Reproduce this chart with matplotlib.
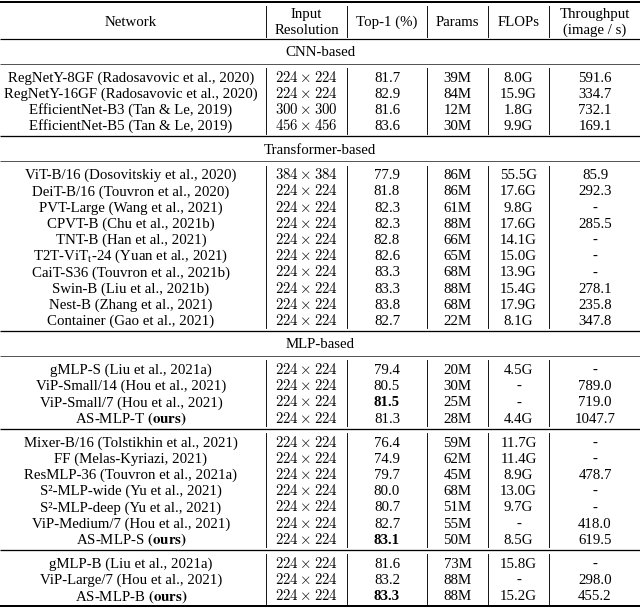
import matplotlib.pyplot as plt

plt.rcParams['font.family'] = ['Liberation Serif', 'DejaVu Serif']
plt.rcParams['mathtext.fontset'] = 'stix'

# table data
sections = ["CNN-based", "Transformer-based", "MLP-based"]
group_sizes = [[4], [10], [4, 7, 3]]

networks = [
    "RegNetY-8GF (Radosavovic et al., 2020)",
    "RegNetY-16GF (Radosavovic et al., 2020)",
    "EfficientNet-B3 (Tan & Le, 2019)",
    "EfficientNet-B5 (Tan & Le, 2019)",
    "ViT-B/16 (Dosovitskiy et al., 2020)",
    "DeiT-B/16 (Touvron et al., 2020)",
    "PVT-Large (Wang et al., 2021)",
    "CPVT-B (Chu et al., 2021b)",
    "TNT-B (Han et al., 2021)",
    r"T2T-ViT$_\mathrm{t}$-24 (Yuan et al., 2021)",
    "CaiT-S36 (Touvron et al., 2021b)",
    "Swin-B (Liu et al., 2021b)",
    "Nest-B (Zhang et al., 2021)",
    "Container (Gao et al., 2021)",
    "gMLP-S (Liu et al., 2021a)",
    "ViP-Small/14 (Hou et al., 2021)",
    "ViP-Small/7 (Hou et al., 2021)",
    r"AS-MLP-T $\mathbf{(ours)}$",
    "Mixer-B/16 (Tolstikhin et al., 2021)",
    "FF (Melas-Kyriazi, 2021)",
    "ResMLP-36 (Touvron et al., 2021a)",
    "S\u00b2-MLP-wide (Yu et al., 2021)",
    "S\u00b2-MLP-deep (Yu et al., 2021)",
    "ViP-Medium/7 (Hou et al., 2021)",
    r"AS-MLP-S $\mathbf{(ours)}$",
    "gMLP-B (Liu et al., 2021a)",
    "ViP-Large/7 (Hou et al., 2021)",
    r"AS-MLP-B $\mathbf{(ours)}$",
]
resolution = [224, 224, 300, 456, 384, 224, 224, 224, 224, 224, 224, 224, 224, 224,
              224, 224, 224, 224, 224, 224, 224, 224, 224, 224, 224, 224, 224, 224]
top1 = [81.7, 82.9, 81.6, 83.6, 77.9, 81.8, 82.3, 82.3, 82.8, 82.6, 83.3, 83.3, 83.8, 82.7,
        79.4, 80.5, 81.5, 81.3, 76.4, 74.9, 79.7, 80.0, 80.7, 82.7, 83.1, 81.6, 83.2, 83.3]
top1_bold = [16, 24, 27]
params = [39, 84, 12, 30, 86, 86, 61, 88, 66, 65, 68, 88, 68, 22,
          20, 30, 25, 28, 59, 62, 45, 68, 51, 55, 50, 73, 88, 88]
flops = [8.0, 15.9, 1.8, 9.9, 55.5, 17.6, 9.8, 17.6, 14.1, 15.0, 13.9, 15.4, 17.9, 8.1,
         4.5, None, None, 4.4, 11.7, 11.4, 8.9, 13.0, 9.7, None, 8.5, 15.8, None, 15.2]
throughput = [591.6, 334.7, 732.1, 169.1, 85.9, 292.3, None, 285.5, None, None, None, 278.1, 235.8, 347.8,
              None, 789.0, 719.0, 1047.7, None, None, 478.7, None, None, 418.0, 619.5, None, 298.0, 455.2]

fig = plt.figure(figsize=(6.4, 6.1), dpi=100)
ax = fig.add_axes([0, 0, 1, 1])
ax.set_xlim(0, 640)
ax.set_ylim(610, 0)
ax.axis('off')

W = 640
fs = 10.7
col_sep = [266, 347, 427, 488, 549]
col_x = [131, 306.5, 387, 457.5, 518.5, 595]
row_h = 16.2
px = 0.72  # points per pixel
base = 4.6  # baseline offset below row centre


def hline(y, lw, color='black'):
    ax.plot([0, W], [y, y], color=color, lw=lw * px, solid_capstyle='butt')


def vlines(y0, y1):
    for x in col_sep:
        ax.plot([x, x], [y0, y1], color='black', lw=0.9 * px)


def cell(x, y, s, **kw):
    ax.text(x, y + base, s, ha='center', va='baseline', fontsize=fs, **kw)


def fmt(v, suffix='', pattern='{:.1f}'):
    return '-' if v is None else pattern.format(v) + suffix


# header
hline(1.5, 2.0)
cell(col_x[0], 21, "Network")
cell(col_x[1], 13, "Input")
cell(col_x[1], 29, "Resolution")
cell(col_x[2], 21, "Top-1 (%)")
cell(col_x[3], 21, "Params")
cell(col_x[4], 21, "FLOPs")
cell(col_x[5], 13, "Throughput")
cell(col_x[5], 29, "(image / s)")
vlines(6, 37)

y = 38.5
hline(y, 1.2)
i = 0
for s, sizes in zip(sections, group_sizes):
    cell(W / 2, y + 13, s)
    y += 25
    hline(y, 0.9, '#444444')
    for gi, n in enumerate(sizes):
        first = y + 13.5
        for k in range(n):
            ry = first + k * row_h
            cell(col_x[0], ry, networks[i])
            cell(col_x[1], ry, r'$%d\times%d$' % (resolution[i], resolution[i]),
                 math_fontfamily='cm')
            cell(col_x[2], ry, fmt(top1[i]),
                 fontweight='bold' if i in top1_bold else 'normal')
            cell(col_x[3], ry, fmt(params[i], 'M', '{:d}'))
            cell(col_x[4], ry, fmt(flops[i], 'G'))
            cell(col_x[5], ry, fmt(throughput[i]))
            i += 1
        last = first + (n - 1) * row_h
        vlines(first - 9, last + 8)
        y = last + 10.5
        if s == sections[-1] and gi == len(sizes) - 1:
            hline(y, 2.0)
        else:
            hline(y, 1.3)

fig.savefig('out.png', dpi=100)
